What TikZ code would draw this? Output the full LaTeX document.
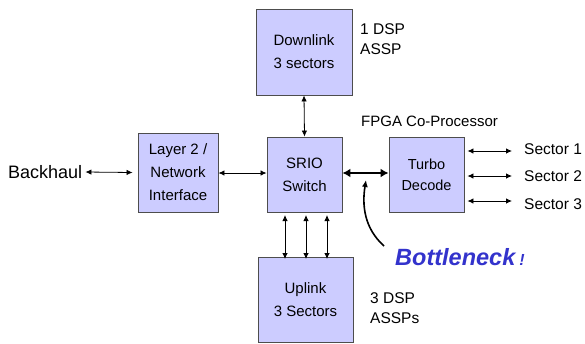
\documentclass[tikz,border=0pt]{standalone}
\usepackage{fontspec}
\setmainfont{Liberation Sans}
\usetikzlibrary{arrows.meta}
\definecolor{boxfill}{HTML}{CCCCFF}
\definecolor{boxline}{HTML}{4D4D4D}
\definecolor{hotblue}{HTML}{3333CC}
\begin{document}
\begin{tikzpicture}[x=1pt,y=-1pt,
  block/.style={draw=boxline,fill=boxfill,line width=0.9pt,align=center,
    inner sep=0pt,font=\fontsize{15}{23}\selectfont},
  label/.style={inner sep=0pt,font=\fontsize{15.5}{20}\selectfont,align=left},
  link/.style={line width=0.8pt,{Latex[length=6pt,width=5.5pt]}-{Latex[length=6pt,width=5.5pt]}},
  fatlink/.style={line width=2.6pt,{Latex[length=8pt,width=9pt]}-{Latex[length=8pt,width=9pt]}}]
\useasboundingbox (0,0) rectangle (585,343);

% processing blocks
\node[block,minimum width=96,minimum height=86] (down) at (304,52) {Downlink\\3 sectors};
\node[block,minimum width=80,minimum height=79] (l2) at (178,172.5) {Layer 2 /\\Network\\Interface};
\node[block,minimum width=75,minimum height=75] (srio) at (304.5,174.5) {SRIO\\Switch};
\node[block,minimum width=75,minimum height=75,font=\fontsize{14.5}{21}\selectfont] (turbo) at (426.5,174.5) {Turbo\\Decode};
\node[block,minimum width=95,minimum height=85] (up) at (305.5,299.5) {Uplink\\3 Sectors};

% annotations
\node[label,anchor=west] (dspdown) at (360,39) {1 DSP\\ASSP};
\node[label,anchor=west] (dspup) at (370,308) {3 DSP\\ASSPs};
\node[label,anchor=west,font=\fontsize{15}{18}\selectfont] (fpga) at (361,121) {FPGA Co-Processor};
\node[label,anchor=west,font=\fontsize{18}{20}\selectfont] (back) at (8,172) {Backhaul};
\node[label,anchor=west] (s1) at (524,149) {Sector 1};
\node[label,anchor=west] (s2) at (524,176) {Sector 2};
\node[label,anchor=west] (s3) at (524,204) {Sector 3};
\node[anchor=west,inner sep=0pt,text=hotblue,font=\fontsize{23.5}{26}\selectfont\bfseries\itshape] (bott) at (395,257)
  {Bottleneck\,{\fontsize{16}{18}\selectfont !}};

% connectors
\draw[link] (back.east) ++(3,0) coordinate (bk) -- ([xshift=-5]l2.west);
\draw[link] (l2.east |- 0,173) -- (srio.west |- 0,173);
\draw[link] (down.south) -- (srio.north);
\foreach \x/\n in {285/a,306/b,327/c}
  \draw[link] (\x,212) coordinate (ut\n) ++(0,3) -- ([yshift=-2]\x,257 -| \x,0 |- up.north);
\draw[fatlink] (srio.east |- 0,173) -- (turbo.west |- 0,173);
\foreach \s/\y in {s1/151,s2/176,s3/201}
  \draw[link] ([xshift=3]turbo.east |- 0,\y) -- ([xshift=-12]\s.west |- 0,\y);

% bottleneck pointer
\coordinate (btail) at (384,246);
\draw[line width=1.6pt,-{Latex[length=7pt,width=6pt]}] (btail) .. controls (364,228) and (362,205) .. (366,180);
\end{tikzpicture}
\end{document}
